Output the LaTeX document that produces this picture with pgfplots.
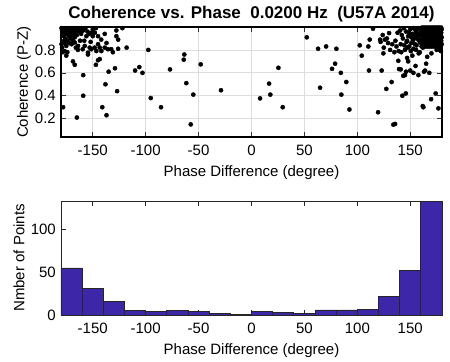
\documentclass[border=0pt]{standalone}
\usepackage{fontspec}
\setmainfont{Liberation Sans}
\usepackage{pgfplots}
\pgfplotsset{compat=1.18}
\definecolor{parula1}{RGB}{62,38,168}
\definecolor{gridgray}{RGB}{222,222,222}
\begin{document}
\fontsize{15bp}{18bp}\selectfont
\begin{tikzpicture}
\useasboundingbox (-61bp,-47bp) rectangle (389bp,315bp);
\pgfplotsset{
  every axis/.append style={
    scale only axis, width=381bp,
    /pgf/number format/assume math mode=true,
    tick label style={font=\fontsize{15bp}{18bp}\selectfont},
    label style={font=\fontsize{15bp}{18bp}\selectfont},
    xmin=-180, xmax=180,
    xtick={-150,-100,-50,0,50,100,150},
    major tick length=5bp,
    xticklabel style={anchor=center, yshift=-13bp},
    xlabel style={at={(axis description cs:0.5,0)}, anchor=center, yshift=-36bp},
  }
}
% ---------- top: scatter ----------
\begin{axis}[
  at={(0,178bp)}, anchor=south west,
  height=110bp,
  ymin=0.04, ymax=1.0,
  ytick={0.2,0.4,0.6,0.8},
  yticklabels={0.2,0.4,0.6,0.8},
  grid=major,
  grid style={gridgray, line width=0.7bp},
  axis line style={line width=2.5bp, black},
  tick style={line width=0.6bp, black!80},
  clip=false,
  ylabel style={at={(axis description cs:-0.097,0.5)}, anchor=center},
  title={\bfseries Coherence vs. Phase\ \ 0.0200 Hz\ \ (U57A 2014)},
  title style={font=\bfseries\fontsize{17bp}{20bp}\selectfont, at={(axis description cs:0.5,1)}, anchor=base, yshift=3bp},
  xlabel={Phase Difference (degree)},
  ylabel={Coherence (P-Z)},
]
\addplot[only marks, mark=*, mark size=2.1bp, black, mark options={solid, fill=black}] coordinates {
(-179.5,0.99) (-179,0.97) (-178.5,0.95) (-178,0.99) (-177.5,0.92) (-177,0.98) (-176.5,0.96) (-176,0.90)
(-175.5,0.99) (-175,0.94) (-174.5,0.97) (-174,0.88) (-173.5,0.99) (-173,0.95) (-172.5,0.92) (-172,0.98)
(-171.5,0.96) (-171,0.90) (-170.5,0.99) (-170,0.94) (-169.5,0.97) (-169,0.93) (-168.5,0.99) (-168,0.96)
(-167,0.91) (-166.5,0.98) (-166,0.95) (-165.5,0.99) (-165,0.93) (-164,0.97) (-163.5,0.99) (-162,0.96)
(-161,0.94) (-160.5,0.99)
(-179.5,0.85) (-179,0.82) (-178.5,0.78) (-176.5,0.86) (-175,0.835) (-176.5,0.79) (-174,0.78) (-175,0.75)
(-178,0.30) (-165,0.21) (-168.7,0.70) (-167,0.67) (-168.7,0.88) (-167,0.865) (-163.9,0.835) (-170,0.85)
(-172,0.86) (-177,0.88) (-162,0.88) (-164,0.80) (-166,0.82)
(-159,0.40) (-159,0.58) (-141,0.30) (-145,0.71) (-147,0.67) (-159.5,0.806) (-157.6,0.835) (-154.5,0.776)
(-152.9,0.82) (-151.4,0.806) (-148.2,0.82) (-146.6,0.79) (-145,0.85) (-143.4,0.82) (-141.9,0.79) (-159,0.97)
(-156,0.92) (-153,0.94) (-151.4,0.95) (-150,0.92) (-148,0.95) (-145,0.92) (-142,0.89) (-154.5,0.76)
(-143.4,0.72) (-157,0.99) (-155,0.96) (-150,0.98) (-147,0.99) (-158,0.88) (-152,0.87)
(-137,0.23) (-138,0.50) (-135,0.61) (-127,0.44) (-129,0.64) (-131,0.78) (-126,0.81) (-138.7,0.94)
(-137,0.86) (-127.7,0.97) (-127.7,0.92) (-126,0.89) (-122,0.99) (-138.7,0.82) (-135.6,0.806) (-132.5,0.806)
(-118,0.82) (-110,0.62) (-106,0.65) (-103,0.60)
(-97.5,0.80) (-95.2,0.38) (-85.5,0.30)
(-77,0.63) (-63.5,0.76) (-64,0.715) (-61.6,0.51)
(-55,0.41) (-57.4,0.15) (-48,0.674)
(-28.8,0.448)
(8.1,0.377) (16.6,0.506) (17.8,0.41) (25.4,0.644) (29.5,0.30)
(52.2,0.91)
(62.9,0.81) (70.5,0.83) (80.2,0.81) (64.8,0.47) (79,0.68) (76.1,0.635)
(84.4,0.60) (89.6,0.52) (84.9,0.41) (92.5,0.28)
(102.3,0.84) (104.2,0.75) (110.4,0.83) (111.7,0.89) (111,0.62) (114.8,0.985) (119.6,0.256)
(122,0.87) (123,0.62) (124.6,0.77) (127.4,0.46) (130,0.947) (132.4,0.52) (134,0.148) (135.7,0.154)
(133,0.85) (135,0.78) (138.7,0.705) (139.4,0.633) (124,0.93) (126,0.89) (128,0.90) (125,0.82)
(129,0.86) (131,0.80) (136,0.88) (137,0.83) (138,0.95) (139,0.79) (121.5,0.89)
(142.5,0.40) (143.4,0.574) (145,0.58) (145.8,0.42) (146,0.61) (147,0.73) (150,0.62) (153,0.60)
(157.7,0.58) (148,0.70) (155,0.66) (141,0.63) (152,0.75) (158,0.77) (144.4,0.84) (141,0.85)
(143,0.90) (145,0.80) (146,0.96) (147,0.88) (148,0.92) (149,0.83) (150,0.98) (151,0.86)
(152,0.94) (153,0.81) (154,0.90) (155,0.97) (156,0.84) (157,0.92) (158,0.99) (159,0.87)
(159.5,0.95) (140.5,0.97) (142,0.93) (144,0.99) (149,0.95) (151,0.91) (153,0.99) (154.5,0.85)
(156,0.95) (157.5,0.89) (158.5,0.93) (150.5,0.79) (147.5,0.82) (155.5,0.80) (152.5,0.88) (159,0.78)
(141.5,0.78) (146.5,0.87) (154,0.93) (156.5,0.98)
(162.4,0.30) (161.8,0.31) (169.7,0.37) (174,0.42) (176.6,0.29) (163,0.61) (164,0.62) (165,0.68)
(168,0.60) (166,0.74) (170,0.77) (162,0.82) (178,0.80) (179,0.79) (175,0.80)
(160.2,0.99) (160.2,0.93) (160.2,0.86) (160.7,0.97) (160.7,0.90) (160.7,0.83)
(161.1,0.995) (161.1,0.95) (161.1,0.88) (161.6,0.98) (161.6,0.91) (161.6,0.85)
(162.0,0.99) (162.0,0.93) (162.0,0.86) (162.5,0.97) (162.5,0.90) (162.5,0.83)
(163.0,0.995) (163.0,0.95) (163.0,0.88) (163.4,0.98) (163.4,0.91) (163.4,0.85)
(163.9,0.99) (163.9,0.93) (163.9,0.86) (164.3,0.97) (164.3,0.90) (164.3,0.83)
(164.8,0.995) (164.8,0.95) (164.8,0.88) (165.2,0.98) (165.2,0.91) (165.2,0.85)
(165.7,0.99) (165.7,0.93) (165.7,0.86) (166.1,0.97) (166.1,0.90) (166.1,0.83)
(166.6,0.995) (166.6,0.95) (166.6,0.88) (167.0,0.98) (167.0,0.91) (167.0,0.85)
(167.5,0.99) (167.5,0.93) (167.5,0.86) (167.9,0.97) (167.9,0.90) (167.9,0.83)
(168.4,0.995) (168.4,0.95) (168.4,0.88) (168.8,0.98) (168.8,0.91) (168.8,0.85)
(169.3,0.99) (169.3,0.93) (169.3,0.86) (169.7,0.97) (169.7,0.90) (169.7,0.83)
(170.2,0.995) (170.2,0.95) (170.2,0.88) (170.6,0.98) (170.6,0.91) (170.6,0.85)
(171.1,0.99) (171.1,0.93) (171.1,0.86) (171.5,0.97) (171.5,0.90) (171.5,0.83)
(172.0,0.995) (172.0,0.95) (172.0,0.88) (172.4,0.98) (172.4,0.91) (172.4,0.85)
(172.9,0.99) (172.9,0.93) (172.9,0.86) (173.3,0.97) (173.3,0.90) (173.3,0.83)
(173.8,0.995) (173.8,0.95) (173.8,0.88) (174.2,0.98) (174.2,0.91) (174.2,0.85)
(174.7,0.99) (174.7,0.93) (174.7,0.86) (175.1,0.97) (175.1,0.90) (175.1,0.83)
(175.6,0.995) (175.6,0.95) (175.6,0.88) (176.0,0.98) (176.0,0.91) (176.0,0.85)
(176.5,0.99) (176.5,0.93) (176.5,0.86) (176.9,0.97) (176.9,0.90) (176.9,0.83)
(177.4,0.995) (177.4,0.95) (177.4,0.88) (177.9,0.98) (177.9,0.91) (177.9,0.85)
(178.3,0.99) (178.3,0.93) (178.3,0.86) (178.8,0.97) (178.8,0.90) (178.8,0.83)
(179.2,0.995) (179.2,0.95) (179.2,0.88) (179.7,0.98) (179.7,0.91) (179.7,0.85)
};
\end{axis}
% ---------- bottom: histogram ----------
\begin{axis}[
  at={(0,0)}, anchor=south west,
  height=114bp,
  ymin=0, ymax=133,
  ytick={0,50,100},
  axis line style={line width=0.7bp, black!85},
  tick style={line width=0.6bp, black!85},
  ylabel style={at={(axis description cs:-0.11,0.5)}, anchor=center},
  xlabel={Phase Difference (degree)},
  ylabel={Nmber of Points},
]
\addplot[ybar interval, fill=parula1, draw=black!85, line width=0.7bp] coordinates {
(-180,55) (-160,31) (-140,16) (-120,5) (-100,4) (-80,5) (-60,4) (-40,2) (-20,1)
(0,4) (20,3) (40,2) (60,6) (80,6) (100,7) (120,22) (140,52) (160,133) (180,133)
};
\end{axis}
\end{tikzpicture}
\end{document}
